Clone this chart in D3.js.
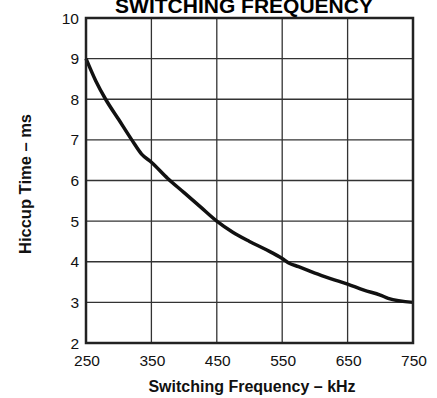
<!DOCTYPE html>
<html>
<head>
<meta charset="utf-8">
<script src="https://cdn.jsdelivr.net/npm/d3@7"></script>
<style>
  body { margin: 0; background: #fff; }
  svg { display: block; font-family: "Liberation Sans", Arial, sans-serif; }
</style>
</head>
<body>
<div id="chart"></div>
<script>
var width = 437;
var height = 398;

// hiccup time vs switching frequency
var freqKHz = [250, 265, 280, 300, 320, 335, 350, 375, 400, 425, 450, 475, 500, 525, 550, 560, 575, 600, 625, 650, 675, 700, 712, 750];
var hiccupMs = [9.0, 8.45, 8.0, 7.5, 7.0, 6.65, 6.45, 6.05, 5.7, 5.35, 5.0, 4.72, 4.5, 4.3, 4.08, 3.97, 3.88, 3.72, 3.58, 3.45, 3.3, 3.18, 3.1, 3.0];
var xTicks = [250, 350, 450, 550, 650, 750];
var yTicks = [2, 3, 4, 5, 6, 7, 8, 9, 10];

var margin = {left: 86, right: 24, top: 18, bottom: 55};

var svg = d3.select("#chart").append("svg")
    .attr("width", width)
    .attr("height", height);

var x = d3.scaleLinear().domain([250, 750]).range([margin.left, width - margin.right]);
var y = d3.scaleLinear().domain([2, 10]).range([height - margin.bottom, margin.top]);

// title, cut off at the top
svg.append("text")
    .attr("x", 244)
    .attr("y", 13)
    .attr("text-anchor", "middle")
    .attr("font-size", "21px")
    .attr("font-weight", "bold")
    .text("SWITCHING FREQUENCY");

// grid
svg.append("g")
    .attr("stroke", "#333")
    .attr("stroke-width", 1.3)
    .selectAll("line.v")
    .data(xTicks.slice(1, -1))
    .enter().append("line")
    .attr("x1", function (d) { return x(d); })
    .attr("x2", function (d) { return x(d); })
    .attr("y1", y(10))
    .attr("y2", y(2));

svg.append("g")
    .attr("stroke", "#333")
    .attr("stroke-width", 1.3)
    .selectAll("line.h")
    .data(yTicks.slice(1, -1))
    .enter().append("line")
    .attr("x1", x(250))
    .attr("x2", x(750))
    .attr("y1", function (d) { return y(d); })
    .attr("y2", function (d) { return y(d); });

// curve
var line = d3.line()
    .x(function (d) { return x(d[0]); })
    .y(function (d) { return y(d[1]); })
    .curve(d3.curveMonotoneX);

svg.append("path")
    .datum(freqKHz.map(function (f, i) { return [f, hiccupMs[i]]; }))
    .attr("fill", "none")
    .attr("stroke", "#111")
    .attr("stroke-width", 3.5)
    .attr("d", line);

// frame
svg.append("rect")
    .attr("x", x(250))
    .attr("y", y(10))
    .attr("width", x(750) - x(250))
    .attr("height", y(2) - y(10))
    .attr("fill", "none")
    .attr("stroke", "#222")
    .attr("stroke-width", 2.5);

// tick labels
svg.append("g")
    .selectAll("text")
    .data(xTicks)
    .enter().append("text")
    .attr("x", function (d) { return x(d) + 1; })
    .attr("y", 366)
    .attr("text-anchor", "middle")
    .attr("font-size", "15.5px")
    .attr("fill", "#111")
    .text(function (d) { return d; });

svg.append("g")
    .selectAll("text")
    .data(yTicks)
    .enter().append("text")
    .attr("x", 79)
    .attr("y", function (d) { return y(d); })
    .attr("dy", "0.36em")
    .attr("text-anchor", "end")
    .attr("font-size", "15.5px")
    .attr("fill", "#111")
    .text(function (d) { return d; });

// axis titles
svg.append("text")
    .attr("x", 252)
    .attr("y", 392)
    .attr("text-anchor", "middle")
    .attr("font-size", "16px")
    .attr("font-weight", "bold")
    .attr("fill", "#111")
    .text("Switching Frequency \u2013 kHz");

svg.append("text")
    .attr("transform", "translate(31,184) rotate(-90)")
    .attr("text-anchor", "middle")
    .attr("font-size", "16.5px")
    .attr("font-weight", "bold")
    .attr("fill", "#111")
    .text("Hiccup Time \u2013 ms");
</script>
</body>
</html>
